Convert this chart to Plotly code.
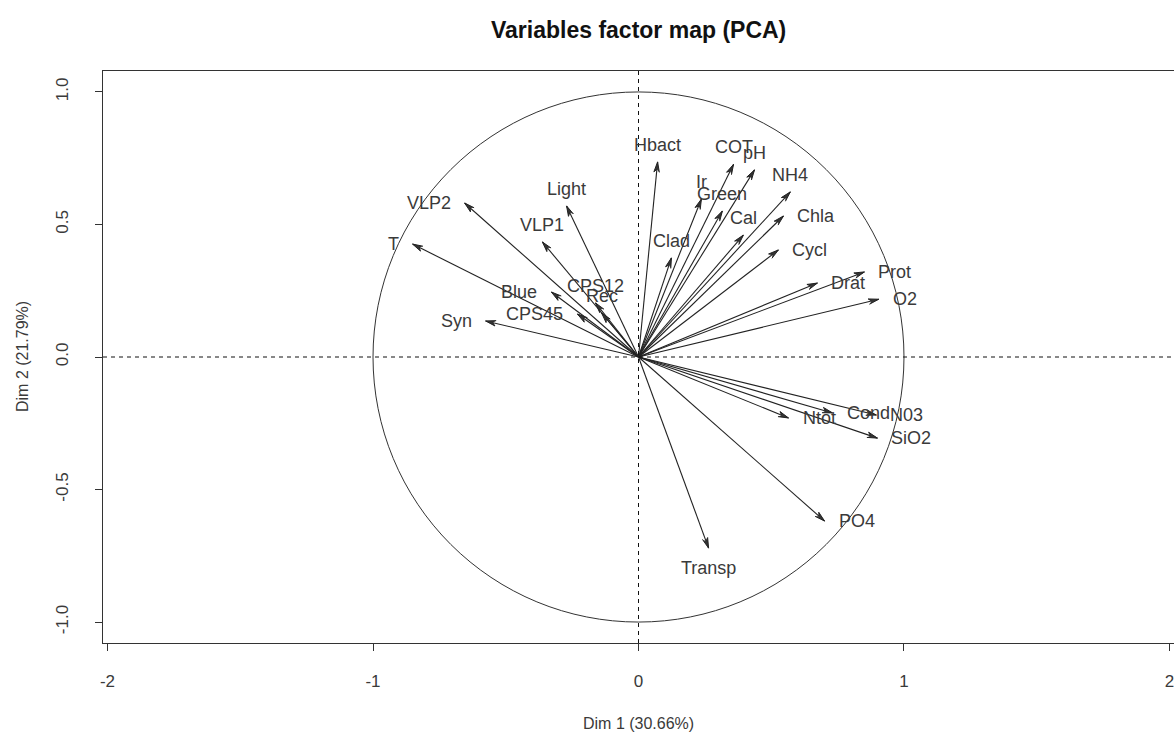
import math
import plotly.graph_objects as go

# ---- data ----
variables = ["T", "VLP2", "Light", "VLP1", "Blue", "CPS45", "Syn", "CPS12", "Rec",
             "Hbact", "Clad", "Ir", "Green", "COT", "pH", "Cal", "NH4", "Chla", "Cycl",
             "Drat", "Prot", "O2", "Cond", "N03", "Ntot", "SiO2", "PO4", "Transp"]
dim1 = [-0.851, -0.655, -0.271, -0.362, -0.328, -0.230, -0.576, -0.162, -0.139,
        0.072, 0.124, 0.237, 0.316, 0.358, 0.437, 0.395, 0.572, 0.546, 0.527,
        0.674, 0.851, 0.905, 0.731, 0.896, 0.565, 0.900, 0.701, 0.264]
dim2 = [0.426, 0.581, 0.570, 0.434, 0.245, 0.162, 0.136, 0.204, 0.166,
        0.736, 0.374, 0.596, 0.551, 0.727, 0.706, 0.460, 0.623, 0.532, 0.404,
        0.279, 0.321, 0.218, -0.211, -0.219, -0.230, -0.306, -0.619, -0.721]

x_ticks = [-2, -1, 0, 1, 2]
x_tick_text = ["-2", "-1", "0", "1", "2"]
y_ticks = [1.0, 0.5, 0.0, -0.5, -1.0]
y_tick_text = ["1.0", "0.5", "0.0", "-0.5", "-1.0"]

title_text = "Variables factor map (PCA)"
x_title = "Dim 1 (30.66%)"
y_title = "Dim 2 (21.79%)"

# ---- styling ----
FONT = "Liberation Sans, Arial, sans-serif"
TXT = "#3a3a3a"
LINE = "#222222"
W, H = 1174, 733
ML, MR, MT, MB = 103, 0, 71, 90
XR = [-2.017, 2.017]
YR = [-1.079, 1.079]

head_len = 0.040            # arrow head length (data units, aspect 1:1)
head_ang = math.radians(15)

lx, ly, hx, hy = [], [], [], []
for x, y in zip(dim1, dim2):
    th = math.atan2(y, x)
    lx += [0, x, None]
    ly += [0, y, None]
    hx += [x - head_len * math.cos(th + head_ang), x,
           x - head_len * math.cos(th - head_ang),
           x - 0.7 * head_len * math.cos(th), None]
    hy += [y - head_len * math.sin(th + head_ang), y,
           y - head_len * math.sin(th - head_ang),
           y - 0.7 * head_len * math.sin(th), None]

fig = go.Figure()
fig.add_trace(go.Scatter(x=lx, y=ly, mode="lines",
                         line=dict(color=LINE, width=1.1),
                         hoverinfo="skip", showlegend=False))
fig.add_trace(go.Scatter(x=hx, y=hy, mode="lines", fill="toself",
                         fillcolor="#333333",
                         line=dict(color=LINE, width=1),
                         hoverinfo="skip", showlegend=False))

annotations = []
for name, x, y in zip(variables, dim1, dim2):
    if abs(x) > abs(y):
        pos = 4 if x >= 0 else 2
    else:
        pos = 3 if y >= 0 else 1
    a = dict(x=x, y=y, xref="x", yref="y", text=name, showarrow=False,
             font=dict(family=FONT, size=18, color=TXT), yanchor="middle")
    if pos == 2:
        a.update(xanchor="right", xshift=-12)
    elif pos == 4:
        a.update(xanchor="left", xshift=12)
    elif pos == 3:
        a.update(xanchor="center", yshift=17)
    else:
        a.update(xanchor="center", yshift=-20)
    annotations.append(a)

plot_h = H - MT - MB
plot_w = W - ML - MR
annotations.append(dict(text="<b>" + title_text + "</b>", xref="paper", yref="paper",
                        x=0.5, y=1 + (71 - 30) / plot_h, xanchor="center", yanchor="middle",
                        showarrow=False, font=dict(family=FONT, size=23, color="#111")))
annotations.append(dict(text=x_title, xref="paper", yref="paper",
                        x=0.5, y=-(723 - 643) / plot_h, xanchor="center", yanchor="middle",
                        showarrow=False, font=dict(family=FONT, size=16, color=TXT)))
annotations.append(dict(text=y_title, xref="paper", yref="paper", textangle=-90,
                        x=(22 - 103) / plot_w, y=0.5, xanchor="center", yanchor="middle",
                        showarrow=False, font=dict(family=FONT, size=16, color=TXT)))

shapes = [
    dict(type="circle", xref="x", yref="y", x0=-1, y0=-1, x1=1, y1=1,
         line=dict(color="#333333", width=1)),
    dict(type="line", xref="paper", yref="y", x0=0, x1=1, y0=0, y1=0,
         line=dict(color="#111111", width=1, dash="4px,4px")),
    dict(type="line", xref="x", yref="paper", x0=0, x1=0, y0=0, y1=1,
         line=dict(color="#111111", width=1, dash="4px,4px")),
]

fig.update_layout(
    width=W, height=H,
    margin=dict(l=ML, r=MR, t=MT, b=MB, pad=0),
    paper_bgcolor="white", plot_bgcolor="white",
    annotations=annotations, shapes=shapes,
    showlegend=False,
    xaxis=dict(range=XR, tickvals=x_ticks, ticktext=x_tick_text,
               showgrid=False, zeroline=False, showline=True, mirror=True,
               linecolor="#333333", linewidth=1, ticks="outside", ticklen=7,
               tickcolor="#333333", ticklabelstandoff=16,
               ticklabeloverflow="allow",
               tickfont=dict(family=FONT, size=17, color=TXT), fixedrange=True),
    yaxis=dict(range=YR, tickvals=y_ticks, ticktext=y_tick_text,
               showgrid=False, zeroline=False, showline=True, mirror=True,
               linecolor="#333333", linewidth=1, ticks="outside", ticklen=7,
               tickcolor="#333333", tickangle=-90, ticklabelstandoff=20,
               tickfont=dict(family=FONT, size=17, color=TXT), fixedrange=True),
)

fig.write_html("out.html",
               config={"displayModeBar": False},
               post_script="document.body.style.margin='0';"
                           "document.body.style.overflow='hidden';")
